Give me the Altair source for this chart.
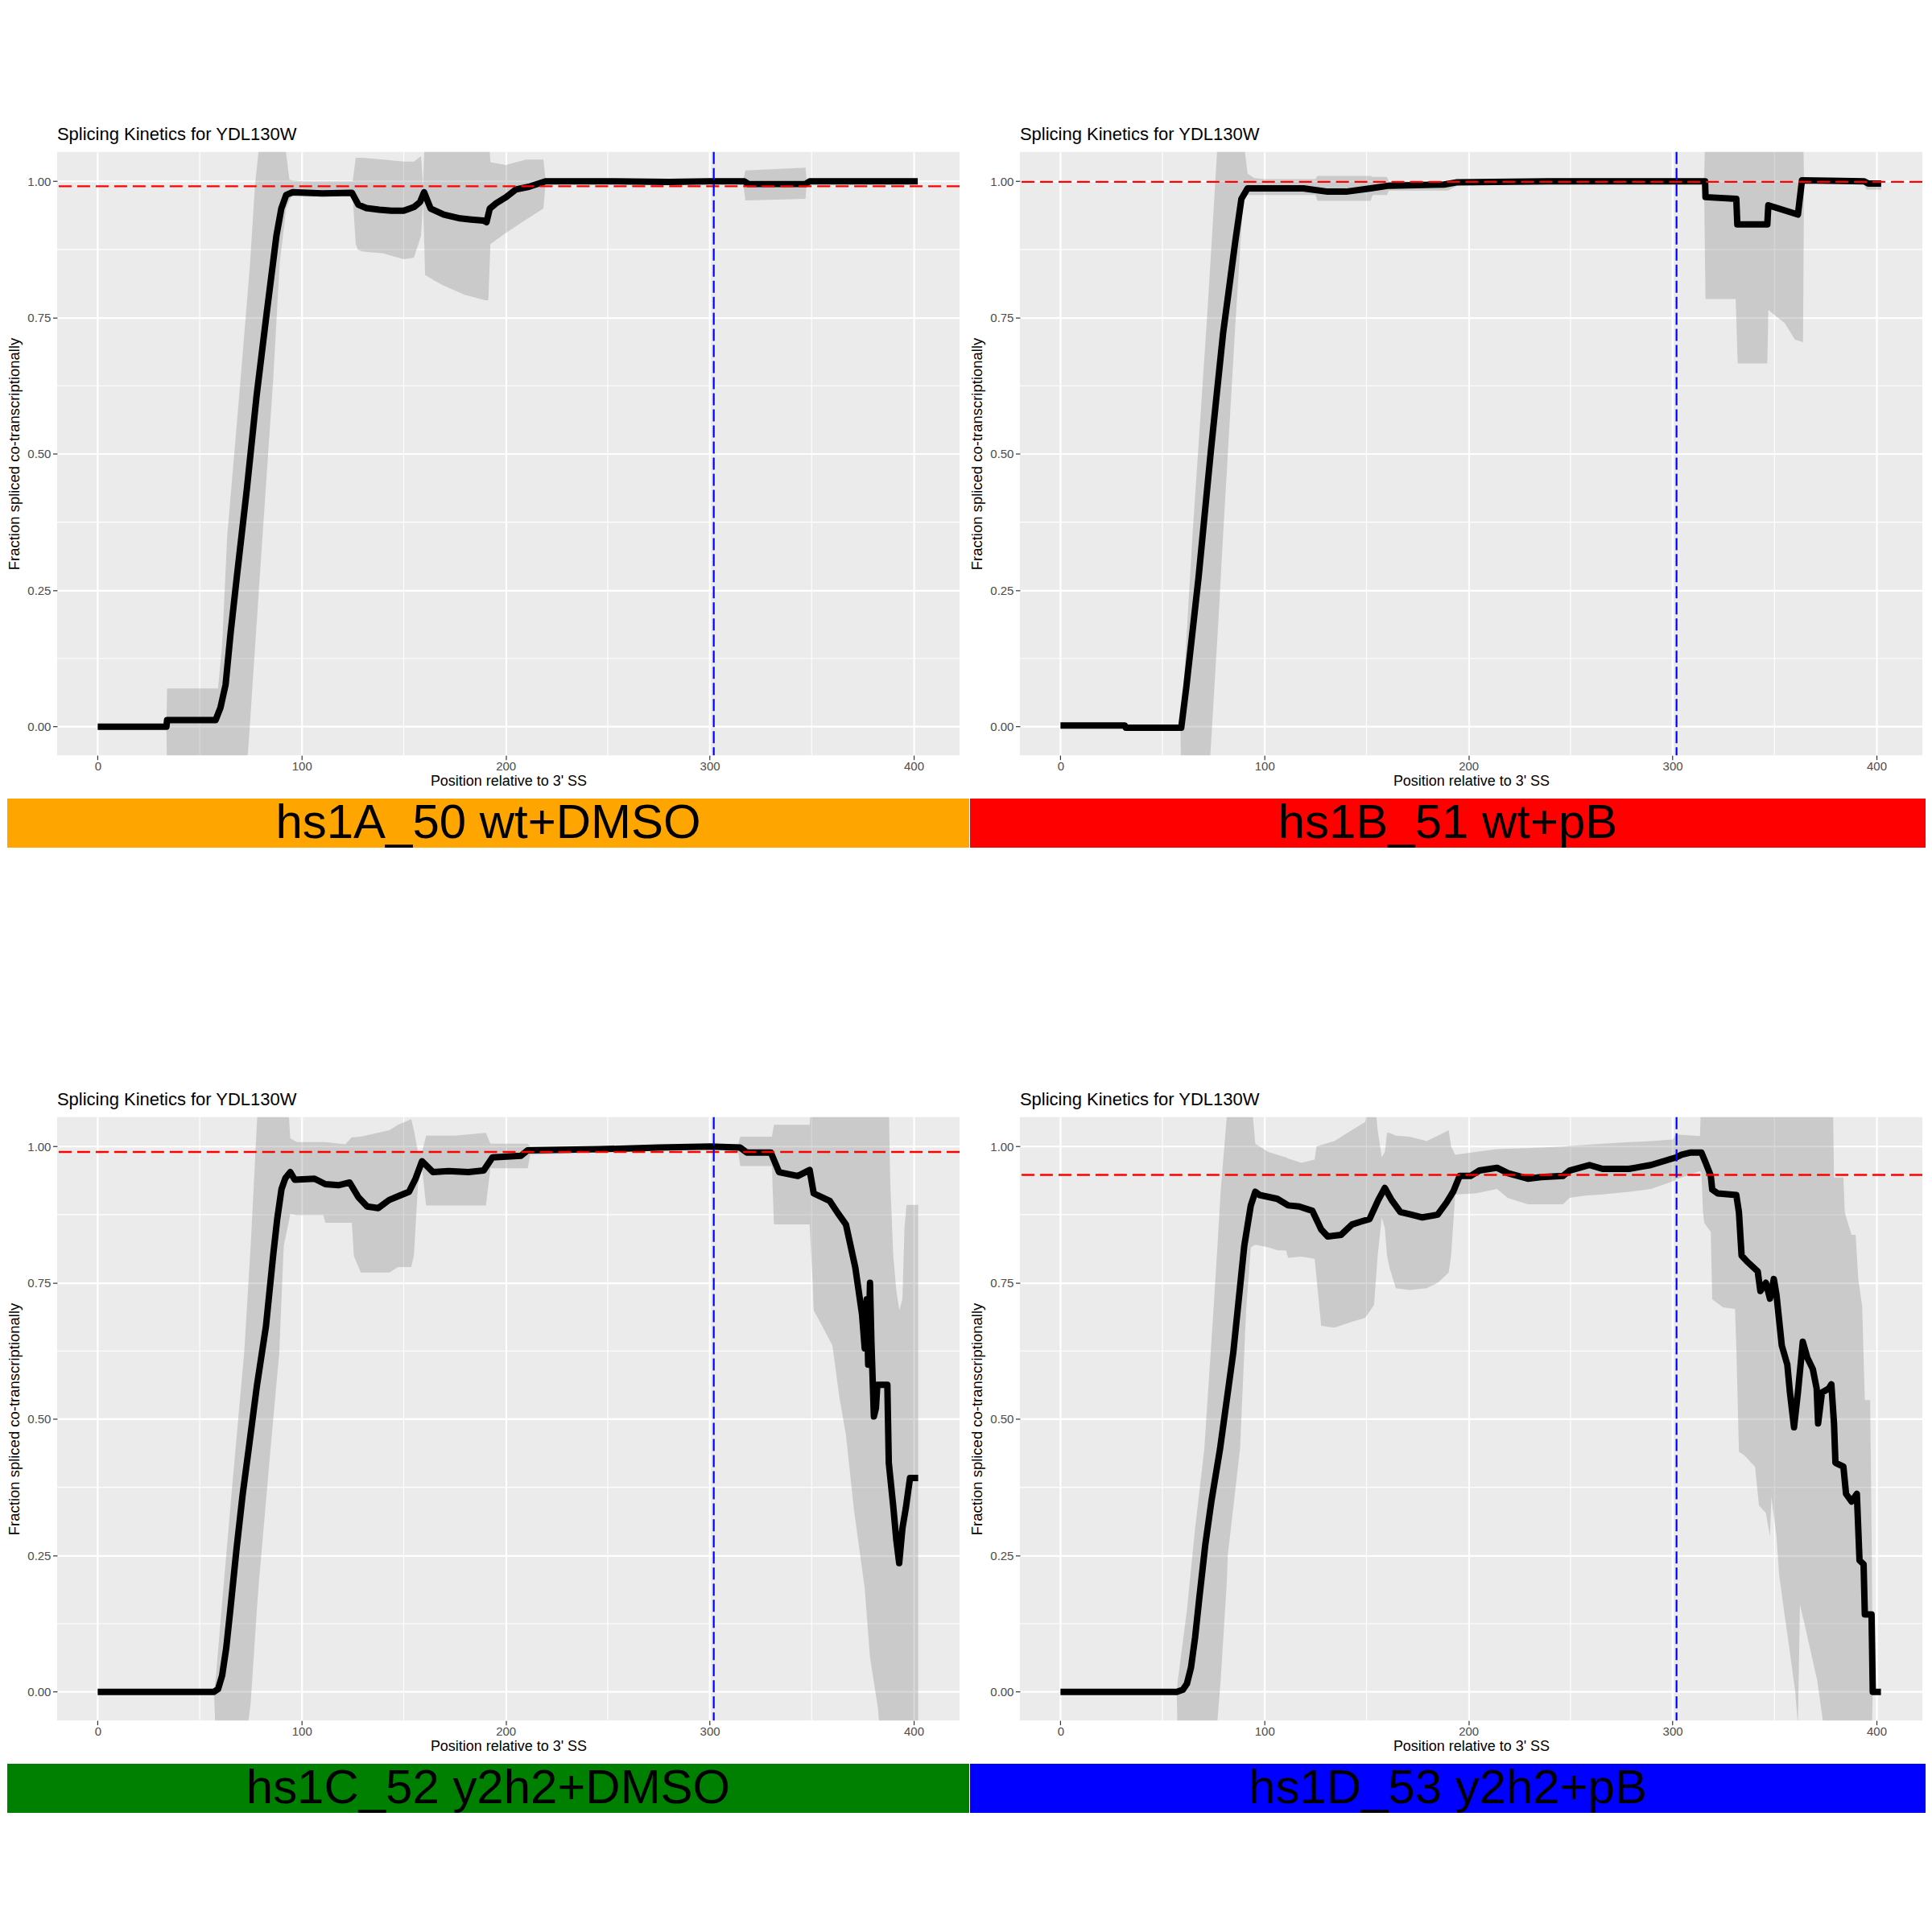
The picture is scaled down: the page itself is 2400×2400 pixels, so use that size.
import altair as alt
import pandas as pd

FONT = "Liberation Sans"
PLOT_TITLE = "Splicing Kinetics for YDL130W"
X_TITLE = "Position relative to 3' SS"
Y_TITLE = "Fraction spliced co-transcriptionally"

panel_labels = ["hs1A_50 wt+DMSO", "hs1B_51 wt+pB", "hs1C_52 y2h2+DMSO", "hs1D_53 y2h2+pB"]
band_colors = ["#FFA500", "#FF0000", "#008000", "#0000FF"]
red_levels = [0.991, 0.999, 0.990, 0.948]
blue_position = 302

x_ticks = [0, 100, 200, 300, 400]
x_minor = [50, 150, 250, 350]
y_ticks = [0.0, 0.25, 0.5, 0.75, 1.0]
y_minor = [0.125, 0.375, 0.625, 0.875]

# ---- panel A: (position, fraction) ----
A_line = [(0, 0), (33.7, 0), (34.0, 0.012), (57.8, 0.012), (60.2, 0.035), (62.7, 0.077),
          (65.1, 0.17), (68.3, 0.278), (73.1, 0.435), (77.9, 0.607), (82.8, 0.757),
          (87.6, 0.9), (90.0, 0.95), (92.4, 0.975), (95.6, 0.98), (110, 0.978),
          (124.6, 0.979), (127.8, 0.957), (131.7, 0.951), (138, 0.948), (143.9, 0.946),
          (150, 0.946), (155.1, 0.953), (158, 0.962), (160.0, 0.98), (163.2, 0.95),
          (169.7, 0.939), (177.7, 0.932), (183, 0.93), (189.0, 0.928), (190.6, 0.925),
          (192.2, 0.95), (195.4, 0.96), (200.2, 0.971), (205.0, 0.985), (211.4, 0.99),
          (219.5, 1.0), (250, 1.0), (280, 0.999), (300, 1.0), (317, 1.0), (319, 0.995),
          (347, 0.995), (349, 1.0), (402, 1.0)]
# (position, lower, upper)
A_ribbon = [(0, 0, 0), (33.7, 0, 0), (34, -0.1, 0.07), (59, -0.1, 0.07), (61, -0.1, 0.15),
            (63.5, -0.1, 0.35), (70, -0.1, 0.635), (72.5, -0.1, 0.749), (74, -0.03, 0.818),
            (74.7, 0.009, 0.85), (77.1, 0.144, 0.993), (78.8, 0.239, 1.053), (79.5, 0.278, 1.1),
            (86, 0.635, 1.1), (89.2, 0.85, 1.1), (90.8, 0.9, 1.1), (92.4, 0.95, 1.05),
            (94, 0.965, 1.003), (95, 0.972, 1.002), (100, 0.972, 1.0), (125, 0.972, 1.0),
            (126.5, 0.885, 1.043), (127.5, 0.875, 1.043), (130, 0.871, 1.043), (140, 0.868, 1.04),
            (150, 0.857, 1.036), (155, 0.86, 1.036), (158.5, 0.9, 1.046), (159.5, 0.965, 0.99),
            (160.5, 0.828, 1.1), (161.5, 0.826, 1.1), (165, 0.818, 1.1), (170, 0.808, 1.1),
            (180, 0.792, 1.1), (190, 0.782, 1.1), (191.5, 0.782, 1.1), (192.5, 0.885, 1.035),
            (200, 0.905, 1.03), (210, 0.93, 1.04), (218.5, 0.95, 1.04), (219.5, 0.994, 1.004),
            (250, 0.995, 1.003), (300, 0.996, 1.003), (316.5, 0.996, 1.003), (317.5, 0.965, 1.02),
            (347, 0.968, 1.025), (347.5, 0.997, 1.001), (402, 0.998, 1.002)]

# ---- panel B ----
B_line = [(0, 0.002), (31.6, 0.002), (32, -0.002), (59.2, -0.002), (61.7, 0.073), (67.7, 0.274),
          (73.7, 0.505), (79.7, 0.721), (85.7, 0.89), (88.7, 0.968), (91.7, 0.987), (119, 0.987),
          (131, 0.981), (140, 0.981), (152, 0.987), (161, 0.992), (188, 0.994), (194, 0.998),
          (239, 1.0), (300, 1.0), (316.0, 1.0), (316.2, 0.971), (331.3, 0.968), (331.8, 0.921),
          (346.5, 0.921), (347, 0.956), (361.5, 0.939), (363.5, 1.002), (394, 1.0), (396, 0.996),
          (402.3, 0.996)]
B_ribbon = [(0, 0.002, 0.002), (58.8, -0.002, 0.002), (59.2, -0.1, 0.01), (60, -0.1, 0.05),
            (64.7, -0.1, 0.35), (71.6, -0.1, 0.736), (72.5, -0.1, 0.79), (73.5, -0.05, 0.85),
            (76.7, 0.15, 1.05), (77.5, 0.2, 1.1), (79.7, 0.351, 1.1), (85.7, 0.736, 1.1),
            (89.3, 0.95, 1.1), (89.6, 0.968, 1.08), (91.7, 0.975, 1.014), (95, 0.975, 1.006),
            (100, 0.975, 1.004), (125, 0.975, 1.004), (126, 0.964, 1.01), (152, 0.964, 1.01),
            (153, 0.975, 1.008), (160, 0.975, 1.008), (161, 0.983, 1.0), (190, 0.983, 1.0),
            (195, 0.993, 1.003), (300, 0.995, 1.003), (315.5, 0.995, 1.003), (316.2, 0.784, 1.1),
            (331, 0.784, 1.1), (332, 0.666, 1.1), (346.5, 0.666, 1.1), (347, 0.764, 1.1),
            (350, 0.755, 1.1), (355, 0.74, 1.1), (360, 0.71, 1.1), (364, 0.705, 1.1),
            (364.5, 0.995, 1.004), (394, 0.996, 1.003), (395, 0.985, 1.0), (402.3, 0.985, 1.0)]

# ---- panel C ----
C_line = [(0, 0), (57, 0), (59, 0.005), (61, 0.03), (63, 0.08), (65, 0.15), (68, 0.26), (71, 0.36),
          (74, 0.445), (78, 0.56), (82.5, 0.671), (86, 0.8), (88, 0.867), (90.1, 0.922), (92, 0.942),
          (94.4, 0.953), (96.6, 0.939), (106.3, 0.941), (111.6, 0.931), (118, 0.929), (123.5, 0.934),
          (127.8, 0.907), (132.1, 0.89), (137.5, 0.887), (142.9, 0.902), (148, 0.91), (152.6, 0.917),
          (155.8, 0.941), (159, 0.973), (164.4, 0.953), (172, 0.955), (181.7, 0.953), (189.2, 0.956),
          (193.5, 0.98), (207.5, 0.983), (210.8, 0.993), (246.3, 0.995), (275, 0.998), (300.2, 1.0),
          (314.9, 0.998), (318.2, 0.989), (330, 0.989), (334, 0.953), (343.2, 0.946), (349, 0.957),
          (351, 0.914), (358.9, 0.9), (362.8, 0.878), (366.8, 0.857), (371.4, 0.778), (374.7, 0.692),
          (376, 0.63), (377, 0.72), (377.7, 0.6), (378.6, 0.75), (379.3, 0.64), (380.5, 0.505),
          (381.5, 0.52), (382.2, 0.563), (387.1, 0.563), (387.8, 0.42), (390, 0.34), (391.5, 0.278),
          (392.9, 0.236), (394.5, 0.3), (396.2, 0.338), (398.2, 0.392), (402.2, 0.392)]
C_ribbon = [(0, 0, 0), (57, 0, 0), (58, -0.1, 0.03), (60, -0.1, 0.12), (62, -0.1, 0.207),
            (66, -0.1, 0.38), (71.8, -0.1, 0.622), (73, -0.1, 0.695), (74, -0.05, 0.757),
            (75, -0.02, 0.818), (78, 0.15, 1.04), (79, 0.2, 1.1), (84.7, 0.445, 1.1),
            (89, 0.622, 1.1), (91.2, 0.818, 1.1), (93, 0.85, 1.1), (94.4, 0.876, 1.015),
            (97.6, 0.874, 1.008), (110.6, 0.874, 1.008), (111.6, 0.86, 1.008), (121.3, 0.86, 1.004),
            (124.6, 0.86, 1.017), (125.6, 0.799, 1.017), (129, 0.769, 1.018), (140.7, 0.769, 1.028),
            (143, 0.769, 1.03), (147.2, 0.779, 1.04), (153.7, 0.779, 1.05), (155, 0.8, 1.03),
            (157, 0.93, 0.99), (159, 0.96, 0.99), (161, 0.892, 1.02), (175, 0.892, 1.02),
            (190.3, 0.892, 1.025), (192.5, 0.96, 1.005), (210.8, 0.96, 1.005), (212, 0.985, 1.0),
            (250, 0.99, 1.0), (300, 0.995, 1.004), (314, 0.99, 1.004), (315, 0.964, 1.018),
            (330.5, 0.964, 1.018), (331.5, 0.857, 1.04), (349, 0.857, 1.04), (350.4, 0.757, 1.1),
            (351, 0.7, 1.1), (360.2, 0.635, 1.1), (363.5, 0.542, 1.1), (366.8, 0.471, 1.1),
            (370.7, 0.335, 1.1), (376, 0.19, 1.1), (378.6, 0.063, 1.1), (382.5, -0.03, 1.1),
            (384, -0.1, 1.1), (387.7, -0.1, 1.1), (388.5, -0.1, 0.936), (390, -0.1, 0.8),
            (391.5, -0.1, 0.735), (393, -0.1, 0.7), (394.5, -0.1, 0.72), (395.5, -0.1, 0.85),
            (396.5, -0.1, 0.893), (402.2, -0.1, 0.893)]

# ---- panel D ----
D_line = [(0, 0), (57, 0), (60, 0.004), (62, 0.015), (64, 0.045), (66, 0.1), (68, 0.17), (71, 0.27),
          (74, 0.35), (78.2, 0.445), (84.7, 0.622), (90.1, 0.818), (93.3, 0.892), (95.5, 0.917),
          (97.6, 0.911), (106.3, 0.904), (111.6, 0.892), (117, 0.89), (123.5, 0.882), (127.8, 0.848),
          (131, 0.835), (137.5, 0.838), (142.9, 0.857), (147, 0.862), (151.5, 0.867), (155.8, 0.902),
          (159, 0.924), (162.3, 0.902), (166.6, 0.88), (172, 0.875), (177.4, 0.87), (184.9, 0.875),
          (189.2, 0.897), (192.5, 0.917), (195.7, 0.946), (201, 0.946), (205.4, 0.956), (214, 0.961),
          (219.4, 0.951), (229.1, 0.941), (235.6, 0.944), (246.3, 0.946), (249.6, 0.956),
          (259.3, 0.966), (265.7, 0.959), (278.7, 0.959), (289.4, 0.966), (301.8, 0.98),
          (304.5, 0.985), (309, 0.989), (314.2, 0.989), (316.2, 0.971), (318.8, 0.946),
          (319.5, 0.921), (322.2, 0.914), (331.3, 0.911), (332.6, 0.879), (333.9, 0.8),
          (336.6, 0.789), (341.8, 0.771), (343.1, 0.735), (345.8, 0.75), (347.8, 0.721),
          (349.7, 0.757), (351, 0.728), (353.6, 0.635), (356.3, 0.6), (357.6, 0.549), (359.6, 0.485),
          (361.5, 0.549), (363.9, 0.642), (366.1, 0.613), (368.8, 0.592), (370.7, 0.556),
          (371.4, 0.492), (373.3, 0.549), (376.6, 0.556), (377.9, 0.564), (379.2, 0.492),
          (379.9, 0.42), (383.8, 0.413), (385.1, 0.363), (387.8, 0.349), (390.4, 0.363),
          (391.7, 0.241), (393.7, 0.234), (394.3, 0.142), (397.6, 0.142), (398.2, 0.0), (402.2, 0.0)]
D_ribbon = [(0, 0, 0), (57, 0, 0), (57.5, -0.1, 0.02), (62, -0.1, 0.15), (66, -0.1, 0.3),
            (70.5, -0.1, 0.445), (74.5, -0.1, 0.671), (76, -0.1, 0.76), (77, -0.05, 0.82),
            (78.5, 0.02, 0.917), (81.5, 0.2, 1.054), (82, 0.25, 1.1), (88, 0.445, 1.1),
            (91, 0.7, 1.1), (93.3, 0.815, 1.1), (95.5, 0.82, 1.005), (101.9, 0.815, 0.99),
            (106.3, 0.81, 0.985), (110.6, 0.809, 0.98), (111.6, 0.796, 0.978), (118.1, 0.798, 0.97),
            (124.6, 0.794, 0.976), (125.5, 0.76, 1.0), (127.8, 0.671, 1.003), (134.3, 0.668, 1.01),
            (140.7, 0.676, 1.025), (149.4, 0.686, 1.045), (152, 0.7, 1.1), (153.7, 0.71, 1.1),
            (155.5, 0.8, 1.03), (157.5, 0.87, 0.98), (159, 0.85, 0.99), (160.1, 0.8, 1.025),
            (161.2, 0.779, 1.025), (164.4, 0.74, 1.02), (171, 0.737, 1.018), (179.5, 0.74, 1.01),
            (185, 0.75, 1.02), (190.3, 0.769, 1.03), (191.5, 0.8, 1.0), (193.5, 0.912, 0.985),
            (203.4, 0.914, 0.99), (214, 0.922, 0.995), (219.2, 0.906, 0.996), (229.1, 0.894, 0.997),
            (246.3, 0.894, 1.0), (249.6, 0.906, 1.001), (257.1, 0.91, 1.003), (265.7, 0.912, 1.005),
            (278.7, 0.917, 1.008), (289.4, 0.922, 1.01), (300.2, 0.936, 1.013), (301.8, 0.94, 1.022),
            (313.5, 0.955, 1.019), (314.2, 0.95, 1.1), (315, 0.879, 1.1), (315.6, 0.86, 1.1),
            (318.8, 0.843, 1.1), (319.5, 0.72, 1.1), (324.8, 0.705, 1.1), (330.7, 0.702, 1.1),
            (331.3, 0.634, 1.1), (332.6, 0.44, 1.1), (335.2, 0.434, 1.1), (340.5, 0.413, 1.1),
            (342.4, 0.342, 1.1), (345.8, 0.328, 1.1), (347.8, 0.285, 1.1), (348.5, 0.357, 1.1),
            (351, 0.285, 1.1), (352.3, 0.215, 1.1), (354.9, 0.143, 1.1), (357.6, 0.072, 1.1),
            (360.2, 0.0, 1.1), (361.5, -0.06, 1.1), (362.5, 0.16, 1.1), (365, 0.12, 1.1),
            (368, 0.07, 1.1), (371, 0.02, 1.1), (374, -0.06, 1.1), (375, -0.1, 1.1),
            (378.6, -0.1, 1.1), (379.2, -0.1, 0.943), (383.8, -0.1, 0.943), (384.5, -0.1, 0.879),
            (387.8, -0.1, 0.838), (389.8, -0.1, 0.838), (391.1, -0.1, 0.757), (393, -0.1, 0.707),
            (394.3, -0.1, 0.535), (396.9, -0.1, 0.535), (397.6, -0.1, 0.3), (398.2, 0, 0),
            (402.2, 0, 0)]

X_DOMAIN = [-19.9, 422.5]
Y_DOMAIN = [-0.0524, 1.0538]
PLOT_W, PLOT_H = 1122, 750
BAND_H = 61
BAND_LEFT = -62          # strip starts at the left edge of each panel cell
BAND_RIGHTS = [1134, 1126, 1134, 1126]

X_AXIS = alt.Axis(values=x_ticks, title=X_TITLE, grid=True, gridColor="white", gridWidth=2.2,
                  domain=False, tickColor="#333333", tickSize=5.5, tickWidth=1.2,
                  labelColor="#4D4D4D", labelFont=FONT, labelFontSize=15, labelPadding=0.5,
                  titleFont=FONT, titleFontSize=18, titleFontWeight="normal",
                  titleColor="black", titlePadding=2)
Y_AXIS = alt.Axis(values=y_ticks, format=".2f", title=Y_TITLE, grid=True, gridColor="white",
                  gridWidth=2.2, domain=False, tickColor="#333333", tickSize=5.5, tickWidth=1.2,
                  labelColor="#4D4D4D", labelFont=FONT, labelFontSize=15, labelPadding=2.5,
                  titleFont=FONT, titleFontSize=18.5, titleFontWeight="normal",
                  titleColor="black", titlePadding=6)


def xenc(field):
    return alt.X(field, type="quantitative", title=X_TITLE,
                 scale=alt.Scale(domain=X_DOMAIN, nice=False, zero=False), axis=X_AXIS)


def yenc(field):
    return alt.Y(field, type="quantitative", title=Y_TITLE,
                 scale=alt.Scale(domain=Y_DOMAIN, nice=False, zero=False), axis=Y_AXIS)


def make_plot(line_pts, rib_pts, red):
    minor_v = alt.Chart(pd.DataFrame({"pos": x_minor})).mark_rule(
        color="white", strokeWidth=1.1).encode(x=xenc("pos"))
    minor_h = alt.Chart(pd.DataFrame({"frac": y_minor})).mark_rule(
        color="white", strokeWidth=1.1).encode(y=yenc("frac"))
    ribbon = alt.Chart(pd.DataFrame(rib_pts, columns=["pos", "lo", "hi"])).mark_area(
        color="#7F7F7F", opacity=0.3, clip=True).encode(
        x=xenc("pos"), y=yenc("lo"), y2="hi:Q")
    line = alt.Chart(pd.DataFrame(line_pts, columns=["pos", "frac"])).mark_line(
        color="black", strokeWidth=8, clip=True, strokeJoin="round").encode(
        x=xenc("pos"), y=yenc("frac"))
    red_rule = alt.Chart(pd.DataFrame({"frac": [red]})).mark_rule(
        color="#FF0000", strokeDash=[16, 7], strokeWidth=2.4).encode(y=yenc("frac"))
    blue_rule = alt.Chart(pd.DataFrame({"pos": [blue_position]})).mark_rule(
        color="#0000FF", strokeDash=[15, 5], strokeWidth=2.2).encode(x=xenc("pos"))
    return alt.layer(minor_v, minor_h, ribbon, line, red_rule, blue_rule).properties(
        width=PLOT_W, height=PLOT_H,
        title=alt.TitleParams(PLOT_TITLE, anchor="start", frame="group", fontSize=22, font=FONT,
                              fontWeight="normal", color="black", offset=9))


def make_band(label, color, right_px):
    df = pd.DataFrame({"start": [0.0], "end": [1.0], "mid": [0.5], "label": [label]})
    bx = alt.Scale(domain=[0, 1], range=[BAND_LEFT, right_px])
    base = alt.Chart(df)
    rect = base.mark_rect(color=color).encode(
        x=alt.X("start:Q", scale=bx, axis=None), x2="end:Q")
    text = base.mark_text(fontSize=60, font=FONT, color="black", baseline="middle",
                          align="center").encode(
        x=alt.X("mid:Q", scale=bx, axis=None), text="label:N")
    return alt.layer(rect, text).properties(
        width=PLOT_W, height=BAND_H,
        view=alt.ViewBackground(fill="white", fillOpacity=0, strokeWidth=0))


lines = [A_line, B_line, C_line, D_line]
ribbons = [A_ribbon, B_ribbon, C_ribbon, D_ribbon]

cells = []
for i in range(4):
    p = make_plot(lines[i], ribbons[i], red_levels[i])
    b = make_band(panel_labels[i], band_colors[i], BAND_RIGHTS[i])
    cells.append(alt.vconcat(p, b, spacing=13))

row1 = alt.hconcat(cells[0], cells[1], spacing=0)
row2 = alt.hconcat(cells[2], cells[3], spacing=0)

chart = alt.vconcat(row1, row2, spacing=301).properties(
    padding={"left": 0, "top": 146, "right": 0, "bottom": 0},
    background="white",
).configure_view(fill="#EBEBEB", strokeWidth=0)

chart.save("out.html", embed_options={"renderer": "svg", "actions": False})
